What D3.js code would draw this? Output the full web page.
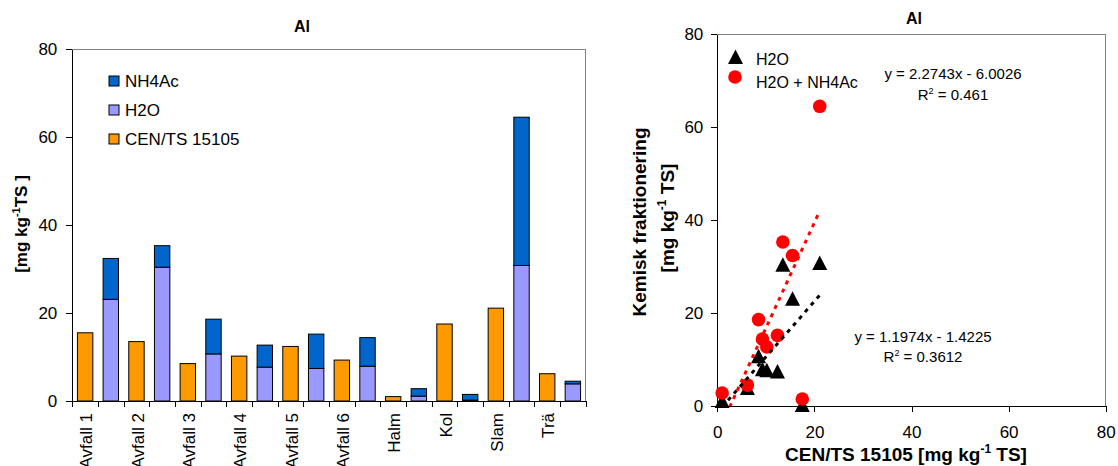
<!DOCTYPE html>
<html>
<head>
<meta charset="utf-8">
<script src="https://cdn.jsdelivr.net/npm/d3@7"></script>
<style>
  body { margin: 0; background: #fff; }
  svg text { font-family: "Liberation Sans", Arial, sans-serif; fill: #000; }
</style>
</head>
<body>
<svg id="chart" width="1118" height="466"></svg>
<script>
// Values
const materials   = ["Avfall 1", "Avfall 2", "Avfall 3", "Avfall 4", "Avfall 5", "Avfall 6", "Halm", "Kol", "Slam", "Trä"];
const cenValues   = [15.5, 13.5, 8.5, 10.2, 12.4, 9.3, 1.0, 17.5, 21.1, 6.2];
const h2oValues   = [23.1, 30.4, 10.7, 7.7, 7.4, 7.9, 1.1, 0.2, 30.8, 3.9];
const nh4acValues = [9.3, 4.9, 7.9, 5.0, 7.8, 6.5, 1.7, 1.3, 33.7, 0.6];
const axisTicks   = [0, 20, 40, 60, 80];
const barLegend   = ["NH4Ac", "H2O", "CEN/TS 15105"];
const trendSlopes = [1.1974, 2.2743];
const trendInts   = [-1.4225, -6.0026];
const trendR2     = ["0.3612", "0.461"];

drawCharts();

function drawCharts() {
  let svg        = d3.select("#chart"),
    blue         = "#0066CC",
    lavender     = "#9999FF",
    orange       = "#FF9900",
    frameGray    = "#808080",
    nCats        = materials.length * 2,
    // left bar chart
    left         = {x0: 72.3, x1: 585.7, y0: 401, y1: 49},
    yBar         = d3.scaleLinear().domain([0, 80]).range([left.y0, left.y1]),
    xBand        = d3.scaleBand().domain(d3.range(nCats)).range([left.x0, left.x1]).paddingInner(0.4).paddingOuter(0.2),
    xEdge        = d3.scaleLinear().domain([0, nCats]).range([left.x0, left.x1]),
    // right scatter chart
    right        = {x0: 717.3, x1: 1105.7, y0: 406, y1: 34.3},
    xSc          = d3.scaleLinear().domain([0, 80]).range([right.x0, right.x1]),
    ySc          = d3.scaleLinear().domain([0, 80]).range([right.y0, right.y1]);

  ////////////////////
  //   Bar chart    //
  ////////////////////
  let lg = svg.append("g");

  // gray frame (top + right)
  lg.append("path")
    .attr("d", `M${left.x0},${left.y1}H${left.x1}V${left.y0}`)
    .attr("fill", "none").attr("stroke", frameGray).attr("shape-rendering", "crispEdges");

  // bar rows: CEN bar, then H2O + NH4Ac stack, for every material
  let cenBars = materials.map((m, i) => ({cat: 2 * i, lo: 0, hi: cenValues[i], color: orange})),
    h2oBars   = materials.map((m, i) => ({cat: 2 * i + 1, lo: 0, hi: h2oValues[i], color: lavender})),
    nhBars    = materials.map((m, i) => ({cat: 2 * i + 1, lo: h2oValues[i], hi: h2oValues[i] + nh4acValues[i], color: blue}));

  lg.selectAll("rect.bar")
    .data(cenBars.concat(h2oBars, nhBars))
    .enter().append("rect")
    .attr("class", "bar")
    .attr("x", d => xBand(d.cat))
    .attr("width", xBand.bandwidth())
    .attr("y", d => yBar(d.hi))
    .attr("height", d => yBar(d.lo) - yBar(d.hi))
    .attr("fill", d => d.color)
    .attr("stroke", "#000")
    .attr("stroke-width", 1);

  // axes
  lg.append("g")
    .attr("transform", `translate(${left.x0},0)`)
    .call(d3.axisLeft(yBar).tickValues(axisTicks).tickSize(6).tickSizeOuter(0).tickPadding(9))
    .call(g => g.selectAll("text").attr("font-size", 17).attr("font-family", null))
    .call(g => g.selectAll("line,path").attr("shape-rendering", "crispEdges"));

  lg.append("g")
    .attr("transform", `translate(0,${left.y0})`)
    .call(d3.axisBottom(xEdge).ticks(nCats).tickSize(6).tickSizeOuter(0).tickFormat(""))
    .call(g => g.selectAll("line,path").attr("shape-rendering", "crispEdges"));

  // category labels, one per material, under the CEN bar
  lg.selectAll("text.cat")
    .data(materials)
    .enter().append("text")
    .attr("class", "cat")
    .attr("transform", (d, i) => `translate(${xBand(2 * i) + xBand.bandwidth() / 2 + 1},${left.y0 + 12}) rotate(-90)`)
    .attr("text-anchor", "end")
    .attr("dy", "0.36em")
    .attr("font-size", 17)
    .text(d => d);

  // legend
  let lgd = lg.selectAll("g.legend")
    .data(barLegend)
    .enter().append("g")
    .attr("class", "legend")
    .attr("transform", (d, i) => `translate(109,${76 + i * 29})`);
  lgd.append("rect")
    .attr("width", 10).attr("height", 10)
    .attr("fill", (d, i) => [blue, lavender, orange][i])
    .attr("stroke", "#000");
  lgd.append("text")
    .attr("x", 16).attr("y", 11)
    .attr("font-size", 17)
    .text(d => d);

  // title + y label
  lg.append("text").attr("x", 302).attr("y", 32).attr("text-anchor", "middle")
    .attr("font-size", 16).attr("font-weight", "bold").text("Al");

  let yl = lg.append("text")
    .attr("transform", "translate(27,224) rotate(-90)")
    .attr("text-anchor", "middle")
    .attr("font-size", 17).attr("font-weight", "bold");
  yl.append("tspan").text("[mg kg");
  yl.append("tspan").attr("dy", -7).attr("font-size", 11).text("-1");
  yl.append("tspan").attr("dy", 7).text("TS ]");

  ////////////////////
  //  Scatter chart //
  ////////////////////
  let rg = svg.append("g");

  rg.append("path")
    .attr("d", `M${right.x0},${right.y1}H${right.x1}V${right.y0}`)
    .attr("fill", "none").attr("stroke", frameGray).attr("shape-rendering", "crispEdges");

  rg.append("g")
    .attr("transform", `translate(${right.x0},0)`)
    .call(d3.axisLeft(ySc).tickValues(axisTicks).tickSize(6).tickSizeOuter(0).tickPadding(8))
    .call(g => g.selectAll("text").attr("font-size", 17).attr("font-family", null))
    .call(g => g.selectAll("line,path").attr("shape-rendering", "crispEdges"));

  rg.append("g")
    .attr("transform", `translate(0,${right.y0})`)
    .call(d3.axisBottom(xSc).tickValues(axisTicks).tickSize(6).tickSizeOuter(0).tickPadding(14))
    .call(g => g.selectAll("text").attr("font-size", 17).attr("font-family", null))
    .call(g => g.selectAll("line,path").attr("shape-rendering", "crispEdges"));

  let h2oPts = materials.map((m, i) => ({x: cenValues[i], y: h2oValues[i]})),
    sumPts   = materials.map((m, i) => ({x: cenValues[i], y: h2oValues[i] + nh4acValues[i]})),
    triangle = "M0,-7.5L7.5,7L-7.5,7Z";

  rg.selectAll("path.tri")
    .data(h2oPts)
    .enter().append("path")
    .attr("class", "tri")
    .attr("d", triangle)
    .attr("transform", d => `translate(${xSc(d.x)},${ySc(d.y)})`)
    .attr("fill", "#000");

  rg.selectAll("circle.pt")
    .data(sumPts)
    .enter().append("circle")
    .attr("class", "pt")
    .attr("cx", d => xSc(d.x))
    .attr("cy", d => ySc(d.y))
    .attr("r", 6.8)
    .attr("fill", "#FF0000");

  // linear trendlines, clipped to plot area
  svg.append("clipPath").attr("id", "plotClip")
    .append("rect")
    .attr("x", right.x0).attr("y", right.y1)
    .attr("width", right.x1 - right.x0).attr("height", right.y0 - right.y1);

  let xMin = d3.min(cenValues), xMax = d3.max(cenValues);
  rg.selectAll("line.trend")
    .data(trendSlopes)
    .enter().append("line")
    .attr("class", "trend")
    .attr("clip-path", "url(#plotClip)")
    .attr("x1", xSc(xMin))
    .attr("y1", (s, i) => ySc(s * xMin + trendInts[i]))
    .attr("x2", xSc(xMax))
    .attr("y2", (s, i) => ySc(s * xMax + trendInts[i]))
    .attr("stroke", (s, i) => i === 0 ? "#000" : "#FF0000")
    .attr("stroke-width", 3)
    .attr("stroke-dasharray", "4,5");

  // equations
  let eqPos = [[923, 342, 362], [953, 79, 100]];
  trendSlopes.forEach((s, i) => {
    rg.append("text")
      .attr("x", eqPos[i][0]).attr("y", eqPos[i][1])
      .attr("text-anchor", "middle").attr("font-size", 15)
      .text(`y = ${s}x - ${Math.abs(trendInts[i])}`);
    let r = rg.append("text")
      .attr("x", eqPos[i][0]).attr("y", eqPos[i][2])
      .attr("text-anchor", "middle").attr("font-size", 15);
    r.append("tspan").text("R");
    r.append("tspan").attr("dy", -6).attr("font-size", 9).text("2");
    r.append("tspan").attr("dy", 6).text(" = " + trendR2[i]);
  });

  // legend
  rg.append("path").attr("d", triangle).attr("transform", "translate(735.5,57)").attr("fill", "#000");
  rg.append("text").attr("x", 756).attr("y", 65).attr("font-size", 16).text("H2O");
  rg.append("circle").attr("cx", 735).attr("cy", 77).attr("r", 6.8).attr("fill", "#FF0000");
  rg.append("text").attr("x", 756).attr("y", 88).attr("font-size", 16).text("H2O + NH4Ac");

  // title + axis titles
  rg.append("text").attr("x", 914).attr("y", 24).attr("text-anchor", "middle")
    .attr("font-size", 16).attr("font-weight", "bold").text("Al");

  let xt = rg.append("text")
    .attr("x", 906).attr("y", 461)
    .attr("text-anchor", "middle")
    .attr("font-size", 19).attr("font-weight", "bold");
  xt.append("tspan").text("CEN/TS 15105 [mg kg");
  xt.append("tspan").attr("dy", -8).attr("font-size", 12).text("-1");
  xt.append("tspan").attr("dy", 8).text(" TS]");

  rg.append("text")
    .attr("transform", "translate(646,222) rotate(-90)")
    .attr("text-anchor", "middle")
    .attr("font-size", 19).attr("font-weight", "bold")
    .text("Kemisk fraktionering");

  let yt = rg.append("text")
    .attr("transform", "translate(674,218) rotate(-90)")
    .attr("text-anchor", "middle")
    .attr("font-size", 19).attr("font-weight", "bold");
  yt.append("tspan").text("[mg kg");
  yt.append("tspan").attr("dy", -8).attr("font-size", 12).text("-1");
  yt.append("tspan").attr("dy", 8).text(" TS]");
}
</script>
</body>
</html>
